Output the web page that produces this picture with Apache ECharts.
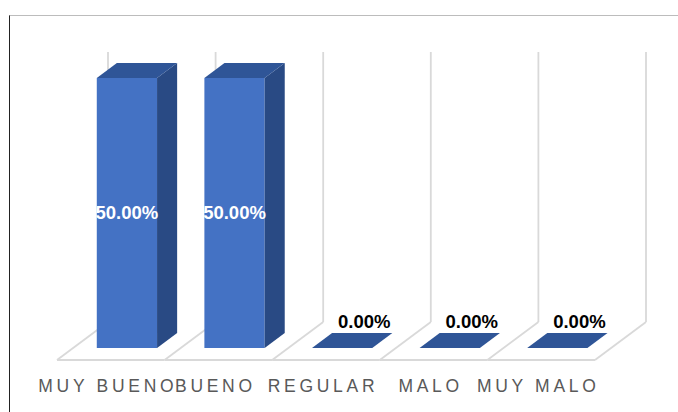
<!DOCTYPE html>
<html>
<head>
<meta charset="utf-8">
<script src="https://cdn.jsdelivr.net/npm/echarts@6/dist/echarts.min.js"></script>
<style>
  html, body { margin: 0; padding: 0; background: #ffffff; }
  #chart { width: 678px; height: 412px; }
  #chart text[style*="Liberation Sans"] { letter-spacing: 3.7px; }
</style>
</head>
<body>
<div id="chart"></div>
<script>
// ---- data ----
const categories = ['MUY BUENO', 'BUENO', 'REGULAR', 'MALO', 'MUY MALO'];
const values = [50, 50, 0, 0, 0];          // percent
const valueMax = 50;

// ---- 3D projection settings (style) ----
const DEPTH_DX = 51, DEPTH_DY = -38;   // full floor depth offset
const BAR_D0 = 0.316, BAR_D1 = 0.71;   // bar front/back depth fraction
const BAR_RATIO = 0.56;
const FRONT = '#4472C4', SIDE = '#294A84', TOP = '#2F5597';
const GRID_COLOR = '#d9d9d9';

function fmt(v) { return v.toFixed(2) + '%'; }

const chart = echarts.init(document.getElementById('chart'), null, { renderer: 'svg' });

const option = {
  backgroundColor: '#ffffff',
  animation: false,
  grid: { left: 57, top: 90, width: 538, height: 270 },
  xAxis: {
    type: 'category',
    data: categories,
    axisLine: { show: false },
    axisTick: { show: false },
    splitLine: { show: false },
    axisLabel: {
      interval: 0,
      margin: 17,
      padding: [0, 6, 0, 0],
      color: '#595959',
      fontSize: 17.5,
      fontFamily: 'Liberation Sans'
    }
  },
  yAxis: { type: 'value', min: 0, max: valueMax, show: false },
  graphic: [
    { type: 'line', shape: { x1: 9, y1: 15.5, x2: 678, y2: 15.5 }, style: { stroke: '#bcbcbc', lineWidth: 1 } },
    { type: 'line', shape: { x1: 9.5, y1: 15.5, x2: 9.5, y2: 412 }, style: { stroke: '#222222', lineWidth: 1 } }
  ],
  series: [
    {
      // walls and floor gridlines along category boundaries
      type: 'custom',
      silent: true,
      z: 1,
      data: categories.map((c, i) => [i, 0]),
      renderItem: function (params, api) {
        const i = api.value(0);
        const c = api.coord([i, 0]);
        const topC = api.coord([i, valueMax]);
        const band = api.size([1, 0])[0];
        const xl = c[0] - band / 2, xr = c[0] + band / 2, y0 = c[1];
        const yTop = topC[1] + DEPTH_DY;
        const st = { stroke: GRID_COLOR, lineWidth: 1.8, fill: null };
        const children = [
          { type: 'line', shape: { x1: xl, y1: y0, x2: xr, y2: y0 }, style: st },
          { type: 'line', shape: { x1: xl, y1: y0, x2: xl + DEPTH_DX, y2: y0 + DEPTH_DY }, style: st },
          { type: 'line', shape: { x1: xl + DEPTH_DX, y1: y0 + DEPTH_DY, x2: xl + DEPTH_DX, y2: yTop }, style: st }
        ];
        if (params.dataIndex === categories.length - 1) {
          children.push(
            { type: 'line', shape: { x1: xr, y1: y0, x2: xr + DEPTH_DX, y2: y0 + DEPTH_DY }, style: st },
            { type: 'line', shape: { x1: xr + DEPTH_DX, y1: y0 + DEPTH_DY, x2: xr + DEPTH_DX, y2: yTop }, style: st }
          );
        }
        return { type: 'group', children: children };
      }
    },
    {
      // 3D columns
      type: 'custom',
      z: 2,
      data: values.map((v, i) => [i, v]),
      renderItem: function (params, api) {
        const i = api.value(0), v = api.value(1);
        const base = api.coord([i, 0]);
        const tp = api.coord([i, v]);
        const band = api.size([1, 0])[0];
        const w = band * BAR_RATIO;
        const ox = DEPTH_DX * BAR_D0, oy = DEPTH_DY * BAR_D0;
        const bdx = DEPTH_DX * (BAR_D1 - BAR_D0), bdy = DEPTH_DY * (BAR_D1 - BAR_D0);
        const xL = base[0] - w / 2 + ox, xR = base[0] + w / 2 + ox;
        const yB = base[1] + oy, yT = tp[1] + oy;
        const children = [];
        if (yB - yT > 0.5) {
          children.push({ type: 'rect', shape: { x: xL, y: yT, width: w, height: yB - yT }, style: { fill: FRONT } });
          children.push({ type: 'polygon', shape: { points: [[xR, yB], [xR, yT], [xR + bdx, yT + bdy], [xR + bdx, yB + bdy]] }, style: { fill: SIDE } });
        }
        children.push({ type: 'polygon', shape: { points: [[xL, yT], [xR, yT], [xR + bdx, yT + bdy], [xL + bdx, yT + bdy]] }, style: { fill: TOP } });
        const inside = (yB - yT) > 40;
        if (inside) {
          children.push({
            type: 'text', z2: 10,
            style: {
              text: fmt(v), x: (xL + xR) / 2, y: (yT + yB) / 2,
              align: 'center', verticalAlign: 'middle',
              fill: '#ffffff', fontSize: 18.5, fontWeight: 'bold', fontFamily: 'Arial'
            }
          });
        } else {
          children.push({
            type: 'text', z2: 10,
            style: {
              text: fmt(v), x: (xL + xR) / 2 + bdx + 2, y: yT + bdy - 2,
              align: 'center', verticalAlign: 'bottom',
              fill: '#000000', fontSize: 18.5, fontWeight: 'bold', fontFamily: 'Arial'
            }
          });
        }
        return { type: 'group', children: children };
      }
    }
  ]
};
chart.setOption(option);
</script>
</body>
</html>
